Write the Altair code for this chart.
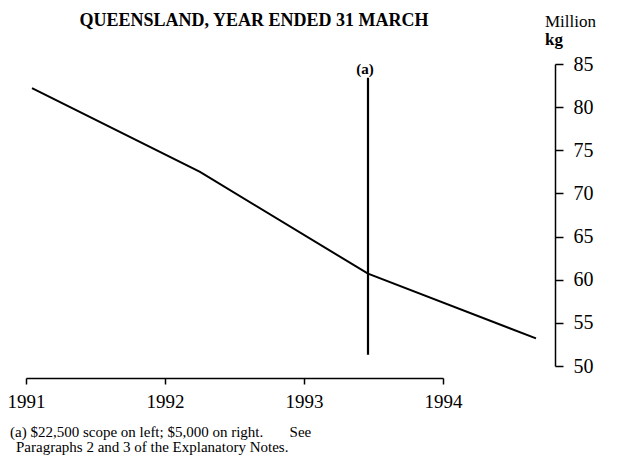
import altair as alt
import pandas as pd

# ---- data ----
years = [1991, 1992, 1993, 1994]
values = [82.2, 72.5, 60.7, 53.2]          # million kg
break_year = [1993]
break_span = [51.3, 83.4]                   # vertical marker extent (million kg)
axis_years = [1991, 1992, 1993, 1994]
y_ticks = [50, 55, 60, 65, 70, 75, 80, 85]
title_text = "QUEENSLAND, YEAR ENDED 31 MARCH"
unit_lines = ["Million", "kg"]
note_lines = ["(a) $22,500 scope on left; $5,000 on right." + "\u00a0" * 7 + "See",
              "Paragraphs 2 and 3 of the Explanatory Notes."]

FONT = "Liberation Serif"
W, H = 510, 314

line_df = pd.DataFrame({"year": years, "value": values})
break_df = pd.DataFrame({"year": break_year, "lo": [break_span[0]], "hi": [break_span[1]], "lab": ["(a)"]})
axis_df = pd.DataFrame({"tick_year": axis_years})

xs = alt.Scale(domain=[1991, 1994], range=[6, 510])
ys = alt.Scale(domain=[50, 85], range=[302, 0])

line = alt.Chart(line_df).mark_line(color="black", strokeWidth=2).encode(
    x=alt.X("year:Q", scale=xs, axis=None),
    y=alt.Y("value:Q", scale=ys, axis=alt.Axis(
        orient="right", values=y_ticks, offset=19, title=None, grid=False,
        domainColor="black", domainWidth=1.5, tickColor="black", tickWidth=1.5,
        tickSize=8, labelPadding=10, labelFont=FONT, labelFontSize=20,
        labelColor="black", labelBaseline="middle", labelFlush=False)),
)

rule = alt.Chart(break_df).mark_rule(color="black", strokeWidth=2.2).encode(
    x=alt.X("year:Q", scale=xs, axis=None),
    y=alt.Y("lo:Q", scale=ys),
    y2="hi:Q",
)

alab = alt.Chart(break_df).mark_text(font=FONT, fontSize=15, fontWeight="bold",
                                     baseline="bottom", dy=-1, dx=-3).encode(
    x=alt.X("year:Q", scale=xs, axis=None),
    y=alt.Y("hi:Q", scale=ys),
    text="lab:N",
)

data_layer = alt.layer(line, rule, alab)

axis_layer = alt.Chart(axis_df).mark_point(opacity=0).encode(
    x=alt.X("tick_year:Q", scale=alt.Scale(domain=[1991, 1994], range=[0, 417]),
            axis=alt.Axis(orient="bottom", values=axis_years, format="d", title=None,
                          grid=False, domainColor="black", domainWidth=1.5,
                          tickColor="black", tickWidth=1.5, tickSize=6,
                          labelPadding=8, labelFont=FONT, labelFontSize=19,
                          labelColor="black", labelFlush=False)),
)

title_df = pd.DataFrame({"t": [title_text]})
title = alt.Chart(title_df).mark_text(font=FONT, fontSize=18, fontWeight="bold",
                                      align="center", baseline="alphabetic").encode(
    x=alt.value(228), y=alt.value(-38), text="t:N")

unit_df = pd.DataFrame({"t": unit_lines})
unit1 = alt.Chart(unit_df.iloc[[0]]).mark_text(font=FONT, fontSize=17, align="left",
                                               baseline="alphabetic").encode(
    x=alt.value(519), y=alt.value(-37), text="t:N")
unit2 = alt.Chart(unit_df.iloc[[1]]).mark_text(font=FONT, fontSize=17, fontWeight="bold",
                                               align="left", baseline="alphabetic").encode(
    x=alt.value(519), y=alt.value(-19), text="t:N")

note1 = alt.Chart(pd.DataFrame({"t": [note_lines[0]]})).mark_text(
    font=FONT, fontSize=15, align="left", baseline="alphabetic").encode(
    x=alt.value(-16), y=alt.value(373), text="t:N")
note2 = alt.Chart(pd.DataFrame({"t": [note_lines[1]]})).mark_text(
    font=FONT, fontSize=15, align="left", baseline="alphabetic").encode(
    x=alt.value(-10), y=alt.value(388), text="t:N")

chart = alt.layer(data_layer, axis_layer, title, unit1, unit2, note1, note2).resolve_scale(
    x="independent"
).properties(
    width=W, height=H,
    autosize=alt.AutoSizeParams(type="none"),
    padding={"left": 18, "top": 56, "right": 80, "bottom": 80},
    background="white",
).configure_view(stroke=None)

chart.save("out.html", embed_options={"renderer": "svg", "actions": False})
